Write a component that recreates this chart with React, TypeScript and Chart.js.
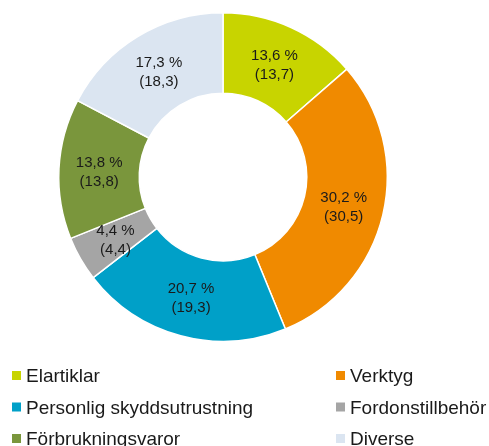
import React, { useEffect, useRef } from "react";
import { Chart, registerables } from "chart.js";

Chart.register(...registerables);

const categories = [
  "Elartiklar",
  "Verktyg",
  "Personlig skyddsutrustning",
  "Fordonstillbehör",
  "Förbrukningsvaror",
  "Diverse",
];
const shares = [13.6, 30.2, 20.7, 4.4, 13.8, 17.3];
const previous = [13.7, 30.5, 19.3, 4.4, 13.8, 18.3];
const colors = ["#c8d400", "#f08a00", "#00a0c8", "#a5a5a5", "#7a963c", "#dbe5f1"];

const FONT = "'Liberation Sans', Arial, sans-serif";
const fmt = (v: number) => v.toFixed(1).replace(".", ",");

const labelPlugin = {
  id: "sliceLabels",
  afterDraw(chart: any) {
    const ctx = chart.ctx;
    const meta = chart.getDatasetMeta(0);
    ctx.save();
    ctx.fillStyle = "#1a1a1a";
    ctx.font = `15px ${FONT}`;
    ctx.textAlign = "center";
    ctx.textBaseline = "middle";
    meta.data.forEach((arc: any, i: number) => {
      const p = arc.getProps(["x", "y", "startAngle", "endAngle", "innerRadius", "outerRadius"], true);
      const a = (p.startAngle + p.endAngle) / 2;
      const r = (p.innerRadius + p.outerRadius) / 2;
      const cx = p.x + Math.cos(a) * r;
      const cy = p.y + Math.sin(a) * r;
      ctx.fillText(`${fmt(shares[i])} %`, cx, cy - 8);
      ctx.fillText(`(${fmt(previous[i])})`, cx, cy + 11);
    });
    // legend
    ctx.font = `19px ${FONT}`;
    ctx.textAlign = "left";
    ctx.textBaseline = "alphabetic";
    const colX = [12, 336];
    const rowBase = [382, 413.5, 445];
    categories.forEach((c, i) => {
      const col = i % 2;
      const row = Math.floor(i / 2);
      const x = colX[col];
      const b = rowBase[row];
      ctx.fillStyle = colors[i];
      ctx.fillRect(x, b - 11, 9, 9);
      ctx.fillStyle = "#1a1a1a";
      ctx.fillText(c, x + 14, b);
    });
    ctx.restore();
  },
};

export default function App() {
  const ref = useRef<HTMLCanvasElement>(null);
  useEffect(() => {
    if (!ref.current) return;
    const chart = new Chart(ref.current, {
      type: "doughnut",
      data: {
        labels: categories,
        datasets: [
          {
            data: shares,
            backgroundColor: colors,
            borderColor: "#ffffff",
            borderWidth: 1.5,
            hoverOffset: 0,
          },
        ],
      },
      options: {
        responsive: false,
        animation: false,
        cutout: "51%",
        layout: { padding: { left: 58, right: 101, top: 11, bottom: 103 } },
        plugins: {
          legend: { display: false },
          tooltip: { enabled: false },
        },
      },
      plugins: [labelPlugin],
    });
    return () => chart.destroy();
  }, []);
  return (
    <div style={{ position: "absolute", left: 0, top: 0, width: 489, height: 446, background: "#fff" }}>
      <canvas ref={ref} width={489} height={446} style={{ display: "block" }} />
    </div>
  );
}
